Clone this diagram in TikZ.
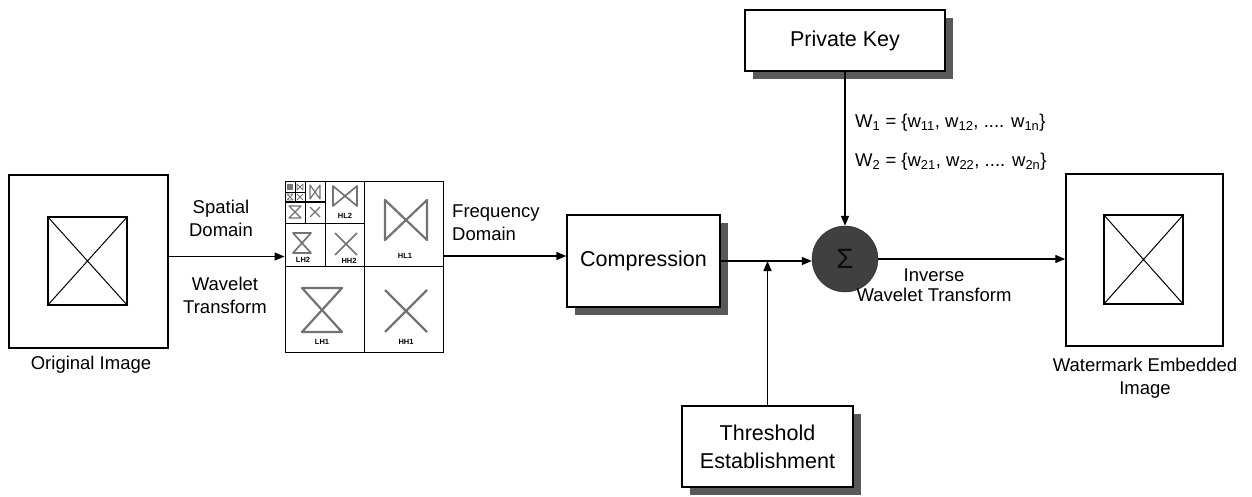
\documentclass[tikz,border=0pt]{standalone}
\usepackage{fontspec}
\setmainfont{Liberation Sans}
\usetikzlibrary{arrows.meta,shadows}

\begin{document}
\begin{tikzpicture}[x=1pt,y=-1pt,
	arr/.style = {-{Triangle[length=10pt,width=8pt]}, line width=1.4pt},
	imgbox/.style = {draw, line width=1.5pt, inner sep=0pt},
	blockbox/.style = {draw, line width=1.4pt, fill=white, inner sep=0pt,
		font=\fontsize{21.5}{28}\selectfont, align=center,
		drop shadow={shadow xshift=8pt, shadow yshift=-8pt, fill=black!65, opacity=1}},
	txt/.style = {font=\fontsize{18.5}{23}\selectfont, align=center, inner sep=0pt},
	band/.style = {font=\fontsize{7.5}{8}\selectfont\bfseries, inner sep=0pt},
	gridline/.style = {line width=1pt},
	bandmark/.style = {draw=black!55, line width=1.5pt, line join=round}]
	\useasboundingbox (0,0) rectangle (1252,497);

	% original image
	\node[imgbox, minimum width=159pt, minimum height=173pt] (orig) at (88.5,261.5) {};
	\node[imgbox, minimum width=79pt, minimum height=88pt] (origin) at (87.5,261) {};
	\draw[line width=1pt] (origin.north west) -- (origin.south east)
		(origin.north east) -- (origin.south west);
	\node[txt] (origlbl) at (91,365) {Original Image};

	% wavelet decomposition
	\node[draw, gridline, minimum width=158pt, minimum height=170pt, inner sep=0pt] (dwt) at (364,267) {};
	\draw[gridline] (364,182) -- (364,352) (285,266) -- (443,266);
	\draw[gridline] (325,182) -- (325,266) (285,223) -- (364,223);
	\draw[gridline] (305,182) -- (305,223) (285,202) -- (325,202);
	\draw[gridline, line width=.6pt] (295,182) -- (295,202) (285,192) -- (305,192);
	% HL bands
	\foreach \cx/\cy/\w/\h/\lw in {406/220/21/20/2.2, 345/196/12/10/1.7, 315/192/5/7/1.2, 300/187/3/3/.8}
		\draw[bandmark, line width=\lw pt] (\cx-\w,\cy-\h) -- (\cx-\w,\cy+\h) -- (\cx+\w,\cy-\h) -- (\cx+\w,\cy+\h) -- cycle;
	% LH bands
	\foreach \cx/\cy/\w/\h/\lw in {322/310/20/22/2.2, 302/243/9/10/1.7, 295/212/6/6/1.2, 290/197/3/3/.8}
		\draw[bandmark, line width=\lw pt] (\cx-\w,\cy-\h) -- (\cx+\w,\cy-\h) -- (\cx-\w,\cy+\h) -- (\cx+\w,\cy+\h) -- cycle;
	% HH bands
	\foreach \cx/\cy/\w/\h/\lw in {406/311/21/21/2.2, 346/244/11/11/1.7, 315/212/5/5/1.2, 300/197/3/3/.8}
		\draw[bandmark, line width=\lw pt] (\cx-\w,\cy-\h) -- (\cx+\w,\cy+\h) (\cx+\w,\cy-\h) -- (\cx-\w,\cy+\h);
	\fill[black!55] (287,184) rectangle (293,190);
	\node[band] (hl1) at (405,256) {HL1};
	\node[band] (lh1) at (322,342) {LH1};
	\node[band] (hh1) at (406,342) {HH1};
	\node[band] (hl2) at (345,216) {HL2};
	\node[band] (lh2) at (303,260) {LH2};
	\node[band] (hh2) at (349,261) {HH2};

	% blocks
	\node[blockbox, minimum width=153pt, minimum height=92pt] (comp) at (643.5,261) {Compression};
	\node[blockbox, minimum width=200pt, minimum height=61pt] (pk) at (845,40.5) {Private Key};
	\node[blockbox, minimum width=171pt, minimum height=81pt] (thr) at (767.5,446.5) {Threshold\\Establishment};
	\node[circle, draw=black!85, fill=black!75, minimum size=66pt, inner sep=0pt,
		font=\fontsize{28}{28}\selectfont, text=black!95] (sum) at (845,259) {Σ};

	% watermarked image
	\node[imgbox, minimum width=157pt, minimum height=172pt] (wm) at (1144.5,260) {};
	\node[imgbox, minimum width=79pt, minimum height=89pt] (wmin) at (1143.5,259.5) {};
	\draw[line width=1pt] (wmin.north west) -- (wmin.south east)
		(wmin.north east) -- (wmin.south west);
	\node[txt] (wmlbl) at (1145,378) {Watermark Embedded\\Image};

	% connectors
	\draw[arr] ([yshift=5pt]orig.east) -- ([yshift=5pt]orig.east -| dwt.west);
	\draw[arr] ([yshift=11pt]dwt.east) -- ([yshift=11pt]dwt.east -| comp.west);
	\draw[arr] (comp.east) -- (comp.east -| sum.west);
	\coordinate (jn) at (thr.north |- comp.east);
	\draw[arr] (thr.north) -- (jn);
	\draw[arr] (pk.south) -- (sum.north);
	\draw[arr] (sum.east) -- (sum.east -| wm.west);

	% labels
	\node[txt] (spat) at (221,218.5) {Spatial\\Domain};
	\node[txt] (wavt) at (225,295) {Wavelet\\Transform};
	\node[txt, anchor=west, align=left] (freq) at (452,223) {Frequency\\Domain};
	\node[txt, font=\fontsize{18.5}{20}\selectfont] (invt) at (934,285) {Inverse\\Wavelet Transform};
	\node[txt, anchor=west] (w1) at (855,123) {W\textsubscript{1} = \{w\textsubscript{11}, w\textsubscript{12}, .... w\textsubscript{1n}\}};
	\node[txt, anchor=west] (w2) at (855,162) {W\textsubscript{2} = \{w\textsubscript{21}, w\textsubscript{22}, .... w\textsubscript{2n}\}};
\end{tikzpicture}
\end{document}
